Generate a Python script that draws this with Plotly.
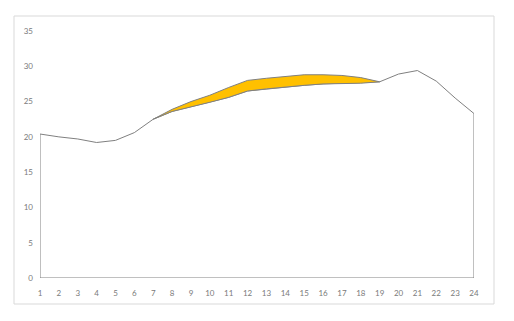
import plotly.graph_objects as go

hours = list(range(1, 25))
lower = [20.4, 20.0, 19.7, 19.2, 19.5, 20.6, 22.5, 23.6, 24.3, 24.9, 25.6, 26.5,
         26.8, 27.1, 27.3, 27.5, 27.6, 27.6, 27.8, 28.9, 29.4, 27.9, 25.5, 23.3]
band_hours = list(range(7, 20))
upper = [22.5, 23.9, 25.0, 25.9, 27.0, 28.0, 28.3, 28.6, 28.8, 28.8, 28.7, 28.4, 27.9]
y_ticks = [0, 5, 10, 15, 20, 25, 30, 35]

grey = "#808080"
fig = go.Figure()

# base area (white fill, grey outline)
fig.add_trace(go.Scatter(
    x=[hours[0]] + hours + [hours[-1], hours[0]],
    y=[0] + lower + [0, 0],
    mode="lines", fill="toself", fillcolor="white",
    line=dict(color=grey, width=1), hoverinfo="skip", showlegend=False))

# yellow band
lower_band = [lower[hours.index(h)] for h in band_hours]
fig.add_trace(go.Scatter(
    x=band_hours + band_hours[::-1],
    y=upper + lower_band[::-1],
    mode="lines", fill="toself", fillcolor="#FFC000",
    line=dict(color=grey, width=1), hoverinfo="skip", showlegend=False))

W, H = 514, 321
l, r, t, b = 40, 40, 31, 43
pw, ph = W - l - r, H - t - b
def px(xp):
    return (xp - l) / pw
def py(yp):
    return (H - b - yp) / ph

fig.update_layout(
    width=W, height=H,
    margin=dict(l=l, r=r, t=t, b=b),
    paper_bgcolor="white", plot_bgcolor="white",
    font=dict(family="Lato, DejaVu Sans, sans-serif", size=8, color="#7a7a7a"),
    xaxis=dict(range=[1, 24], tickvals=hours, ticktext=[str(h) for h in hours],
               showgrid=False, zeroline=False, showline=False, ticks="",
               ticklabelstandoff=9, fixedrange=True),
    yaxis=dict(range=[0, 35], tickvals=y_ticks, showgrid=False, zeroline=False,
               showline=False, ticks="", ticklabelstandoff=6, fixedrange=True),
    shapes=[dict(type="rect", xref="paper", yref="paper",
                 x0=px(14), x1=px(494), y0=py(304), y1=py(16),
                 line=dict(color="#d9d9d9", width=1), fillcolor="rgba(0,0,0,0)",
                 layer="below")],
)

fig.write_html("out.html")
